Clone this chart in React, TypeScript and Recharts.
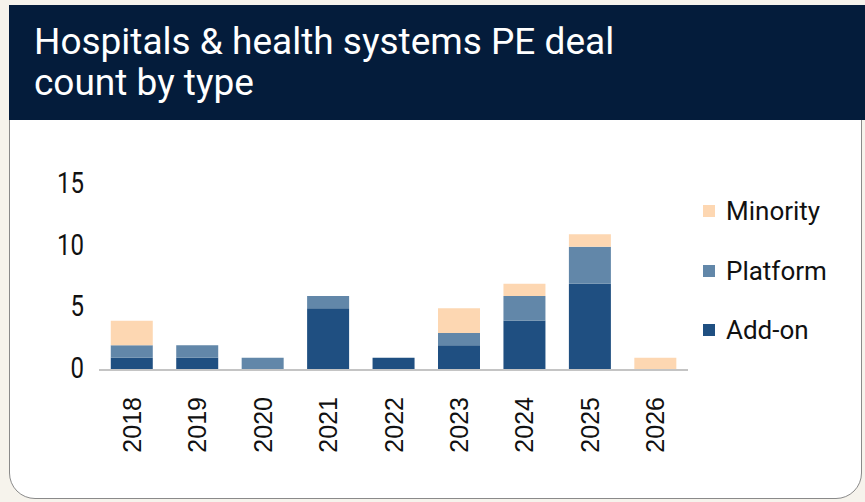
import { BarChart, Bar, XAxis, YAxis } from 'recharts';

const years = ['2018', '2019', '2020', '2021', '2022', '2023', '2024', '2025', '2026'];
const addOn = [1, 1, 0, 5, 1, 2, 4, 7, 0];
const platform = [1, 1, 1, 1, 0, 1, 2, 3, 0];
const minority = [2, 0, 0, 0, 0, 2, 1, 1, 1];
const yTicks = [0, 5, 10, 15];

const series = [
  { key: 'addOn', name: 'Add-on', color: '#1f4f81' },
  { key: 'platform', name: 'Platform', color: '#6287a9' },
  { key: 'minority', name: 'Minority', color: '#fdd7b2' },
];

const data = years.map((year, i) => ({
  year,
  addOn: addOn[i],
  platform: platform[i],
  minority: minority[i],
}));

document.body.style.margin = '0';

function YearTick({ x, y, payload }: any) {
  return (
    <text
      x={x}
      y={y}
      transform={`rotate(-90 ${x} ${y})`}
      textAnchor="end"
      dominantBaseline="central"
      fontSize={25}
      fontFamily="'Liberation Sans', Arial, sans-serif"
      fill="#111"
    >
      {payload.value}
    </text>
  );
}

// narrow digits like the condensed face in the original
function ValueTick({ x, y, payload }: any) {
  return (
    <text
      transform={`translate(${x} ${y - 2}) scale(0.8 1)`}
      textAnchor="end"
      dominantBaseline="central"
      fontSize={30}
      fontFamily="Roboto"
      fill="#111"
    >
      {payload.value}
    </text>
  );
}

export default function App() {
  return (
    <div
      style={{
        position: 'relative',
        width: 865,
        height: 502,
        background: '#f6f3ec',
        overflow: 'hidden',
        fontFamily: 'Roboto, sans-serif',
      }}
    >
      <div
        style={{
          position: 'absolute',
          left: 9,
          top: 5,
          width: 853,
          height: 494,
          background: '#fff',
          border: '1px solid #8a8a8a',
          borderRadius: '0 0 26px 26px',
          boxSizing: 'border-box',
        }}
      />
      <div
        style={{
          position: 'absolute',
          left: 9,
          top: 5,
          width: 860,
          height: 115,
          background: '#041c3b',
        }}
      />
      <div
        style={{
          position: 'absolute',
          left: 34,
          top: 21,
          color: '#fff',
          fontSize: 37,
          lineHeight: '41px',
        }}
      >
        Hospitals &amp; health systems PE deal
        <br />
        count by type
      </div>
      <div style={{ position: 'absolute', left: 0, top: 0 }}>
        <BarChart
          width={865}
          height={502}
          data={data}
          margin={{ top: 185, right: 177, left: 39, bottom: 42 }}
          barCategoryGap="18%"
        >
          <XAxis
            dataKey="year"
            height={90}
            tick={<YearTick />}
            tickLine={false}
            tickSize={0}
            tickMargin={27}
            axisLine={{ stroke: '#c4c4c4', strokeWidth: 2 }}
            interval={0}
          />
          <YAxis
            width={60}
            domain={[0, 15]}
            ticks={yTicks}
            tickLine={false}
            axisLine={false}
            tickSize={0}
            tickMargin={15}
            tick={<ValueTick />}
          />
          {series.map((s) => (
            <Bar
              key={s.key}
              dataKey={s.key}
              name={s.name}
              stackId="a"
              fill={s.color}
              isAnimationActive={false}
            />
          ))}
        </BarChart>
      </div>
      <div style={{ position: 'absolute', left: 703, top: 194 }}>
        {[...series].reverse().map((s) => (
          <div
            key={s.key}
            style={{ display: 'flex', alignItems: 'center', height: 34, marginBottom: 25.5 }}
          >
            <span style={{ width: 12, height: 12, background: s.color, marginRight: 11 }} />
            <span style={{ fontSize: 26, color: '#111' }}>{s.name}</span>
          </div>
        ))}
      </div>
    </div>
  );
}
